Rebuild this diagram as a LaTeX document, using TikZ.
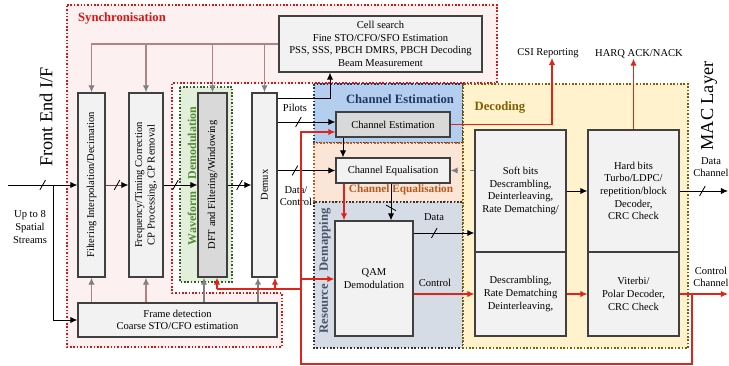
\documentclass[tikz,border=0pt]{standalone}
\usepackage{fontspec}
\setmainfont{Liberation Serif}
\usetikzlibrary{arrows.meta,decorations.markings}

\definecolor{syncpink}{RGB}{252,240,240}
\definecolor{syncred}{RGB}{220,20,20}
\definecolor{wavefill}{RGB}{226,239,218}
\definecolor{waveline}{RGB}{56,87,35}
\definecolor{wavetext}{RGB}{84,140,50}
\definecolor{estfill}{RGB}{180,206,240}
\definecolor{esttext}{RGB}{31,56,100}
\definecolor{eqfill}{RGB}{251,229,214}
\definecolor{eqline}{RGB}{197,90,17}
\definecolor{eqtext}{RGB}{180,90,30}
\definecolor{demapfill}{RGB}{214,220,229}
\definecolor{demaptext}{RGB}{68,84,106}
\definecolor{decfill}{RGB}{255,242,204}
\definecolor{decline}{RGB}{127,96,0}
\definecolor{boxfill}{RGB}{242,242,242}
\definecolor{boxdark}{RGB}{217,217,217}
\definecolor{boxline}{RGB}{64,64,64}
\definecolor{ctrlred}{RGB}{225,35,25}
\definecolor{fbrose}{RGB}{180,130,130}
\definecolor{chainbrown}{RGB}{125,55,55}

\tikzset{
  blk/.style={draw=boxline, fill=boxfill, line width=0.9pt, inner sep=1pt,
    align=center, font=\fontsize{7.5}{9}\selectfont},
  vblk/.style={blk, rotate=90, minimum width=4.6cm},
  area/.style={line width=1.1pt, dash pattern=on 1.1pt off 1.3pt},
  lbl/.style={font=\fontsize{7.5}{9}\selectfont, align=center, inner sep=0pt},
  tag/.style={font=\bfseries\fontsize{9}{10}\selectfont, inner sep=0pt},
  big/.style={font=\fontsize{13}{15}\selectfont, inner sep=0pt, rotate=90},
  bus/.style={postaction={decorate, decoration={markings,
    mark=at position #1 with {\draw[-, black, line width=0.6pt] (-2pt,-3.5pt) -- (2pt,3.5pt);}}}},
  sig/.style={line width=0.7pt, ->},
  ctl/.style={line width=0.8pt, draw=ctrlred, ->},
  fb/.style={line width=0.8pt, draw=fbrose, -{Latex[length=5pt,width=4.5pt,color=gray]}},
  fbgray/.style={line width=0.8pt, draw=gray, ->}
}

\begin{document}
\begin{tikzpicture}[x=0.025cm, y=-0.025cm, >={Latex[length=5pt,width=4.5pt]}]
  \useasboundingbox (0,0) rectangle (729,366);

  % Synchronisation area
  \fill[syncpink] (67,5) -- (497,5) -- (497,83) -- (172,83) -- (172,293)
    -- (282,293) -- (282,347) -- (67,347) -- cycle;
  \draw[area, syncred] (67,5) -- (497,5) -- (497,83) -- (172,83) -- (172,293)
    -- (282,293) -- (282,347) -- (67,347) -- cycle;
  \node[tag, text=syncred] (syncl) at (122,18) {Synchronisation};

  % Waveform demodulation
  \draw[area, draw=waveline, fill=wavefill] (180,87) rectangle (232,282);
  \node[tag, text=wavetext, rotate=90, font=\bfseries\fontsize{8.5}{10}\selectfont]
    (wavel) at (192,176) {Waveform\quad Demodulation};

  % Channel estimation / equalisation / demapping
  \draw[area, draw=esttext, fill=estfill] (314,84) rectangle (463,143);
  \draw[area, draw=eqline, fill=eqfill] (314,143) rectangle (463,202);
  \draw[area, draw=black!80, fill=demapfill] (314,202) rectangle (463,348);
  \node[tag, text=esttext] (estl) at (400,99) {Channel Estimation};
  \node[tag, text=eqtext, font=\bfseries\fontsize{8}{9}\selectfont] (eql) at (401,190) {Channel Equalisation};
  \node[tag, text=demaptext, rotate=90] (demapl) at (325,271) {Resource\quad Demapping};

  % Decoding
  \draw[area, draw=decline, fill=decfill] (463,84) rectangle (688,348);
  \node[tag, text=decline] (decl) at (500,108) {Decoding};

  % Blocks
  \node[blk, minimum width=5.075cm, minimum height=1.4cm] (cell) at (380.5,44)
    {Cell search\\Fine STO/CFO/SFO Estimation\\PSS, SSS, PBCH DMRS, PBCH Decoding\\Beam Measurement};
  \node[vblk, minimum height=0.675cm] (filt) at (91.5,185) {Filtering Interpolation/Decimation};
  \node[vblk, minimum height=0.85cm] (freq) at (146,185) {Frequency/Timing Correction\\CP Processing, CP Removal};
  \node[vblk, fill=boxdark, minimum height=0.725cm] (dft) at (212.5,185) {DFT and Filtering/Windowing};
  \node[vblk, minimum height=0.625cm] (demux) at (264.5,185) {Demux};
  \node[blk, minimum width=4.975cm, minimum height=0.85cm] (frame) at (177.5,320)
    {Frame detection\\Coarse STO/CFO estimation};
  \node[blk, fill=boxdark, minimum width=2.85cm, minimum height=0.625cm] (chest) at (393,124.5) {Channel Estimation};
  \node[blk, minimum width=2.85cm, minimum height=0.625cm] (cheq) at (393,170.5) {Channel Equalisation};
  \node[blk, minimum width=1.95cm, minimum height=2.875cm] (qam) at (374,278.5) {QAM\\Demodulation};
  \node[blk, minimum width=2.275cm, minimum height=3.05cm] (soft) at (520.5,191)
    {Soft bits\\Descrambling,\\Deinterleaving,\\Rate Dematching/};
  \node[blk, minimum width=2.275cm, minimum height=2.1cm] (descr) at (520.5,294)
    {Descrambling,\\Rate Dematching\\Deinterleaving,};
  \node[blk, minimum width=2.275cm, minimum height=3.05cm] (hard) at (633.5,191)
    {Hard bits\\Turbo/LDPC/\\repetition/block\\Decoder,\\CRC Check};
  \node[blk, minimum width=2.275cm, minimum height=2.1cm] (vit) at (633.5,294)
    {Viterbi/\\Polar Decoder,\\CRC Check};

  % Outer labels
  \node[big] (frontl) at (46,117) {Front End I/F};
  \node[big] (macl) at (709,106) {MAC Layer};
  \node[lbl] (streams) at (30,227) {Up to 8\\Spatial\\Streams};
  \node[lbl] (pilots) at (295,108) {Pilots};
  \node[lbl] (datactl) at (296,196) {Data/\\Control};
  \node[lbl] (datal) at (434,217) {Data};
  \node[lbl] (ctrll) at (435,283) {Control};
  \node[lbl] (csi) at (548,53) {CSI Reporting};
  \node[lbl] (harq) at (639,54) {HARQ ACK/NACK};
  \node[lbl] (datach) at (711,167) {Data\\Channel};
  \node[lbl] (ctrlch) at (711,277) {Control\\Channel};

  \coordinate (in) at (8,185);
  \coordinate (split) at (53,185);
  \coordinate (dataout) at (728,191);
  \coordinate (ctrlout) at (728,294);

  % Main receive chain
  \draw[sig, bus=0.5] (in) -- (filt.north);
  \draw[sig] (split) |- (frame.west);
  \draw[line width=0.7pt, draw=chainbrown, -{Latex[length=5pt,width=4.5pt,color=black]}, bus=0.5]
    (filt.south) -- (freq.north);
  \draw[sig, bus=0.35] (freq.south) -- (dft.north);
  \draw[sig, bus=0.5] (dft.south) -- (demux.north);

  % Feedback from cell search
  \draw[fb] (cell.west) -| (filt.east);
  \foreach \n in {freq,dft,demux}
    \draw[fb] (\n.east |- cell.west) -- (\n.east);

  % Frame detection outputs
  \draw[fb] (filt.west |- frame.north) -- (filt.west);
  \draw[fb] (freq.west |- frame.north) -- (freq.west);
  \draw[fbgray] (frame.north -| 204,0) -- (dft.west -| 204,0);
  \draw[fbgray] (frame.north -| 258,0) -- (demux.west -| 258,0);

  % Demux outputs
  \draw[sig] (demux.south |- 0,98) -| (cell.south -| 330,0);
  \draw[sig, bus=0.36] (demux.south |- 0,122) -- (chest.west |- 0,122);
  \draw[sig, bus=0.3] (demux.south |- cheq.west) -- (cheq.west);

  % Estimation, equalisation, demodulation
  \draw[sig] (chest.south -| 343,0) -- (cheq.north -| 343,0);
  \draw[sig, bus=0.66] (cheq.south -| 391,0) -- (qam.north -| 391,0);
  \draw[ctl] (cheq.south -| 344,0) -- (qam.north -| 344,0);
  \draw[line width=0.8pt, gray, dashed, ->] (soft.west |- cheq.east) -- (cheq.east);
  \draw[sig, bus=0.34] (qam.east |- 0,233) -- (soft.west |- 0,233);
  \draw[ctl] (qam.east |- descr.west) -- (descr.west);

  % Decoding outputs
  \draw[sig] (soft) -- (hard);
  \draw[ctl] (descr) -- (vit);
  \draw[sig, bus=0.47] (hard.east) -- (dataout);
  \draw[ctl] (vit.east) -- (ctrlout);
  \draw[ctl] (hard.north) -- (hard.north |- harq.south);
  \draw[ctl] (chest.east) -| (csi.south -| 552,0);

  % Control feedback loop
  \draw[ctl] (vit.east -| 692,0) |- (301,364) -- (301,132) -- (chest.west |- 0,132);
  \draw[ctl] (301,279) -- (qam.west |- 0,279);
  \draw[line width=0.8pt, ctrlred] (301,289) -- (217,289);
  \draw[ctl] (217,289) -- (dft.west -| 217,0);
  \draw[ctl] (275,289) -- (demux.west -| 275,0);
\end{tikzpicture}
\end{document}
